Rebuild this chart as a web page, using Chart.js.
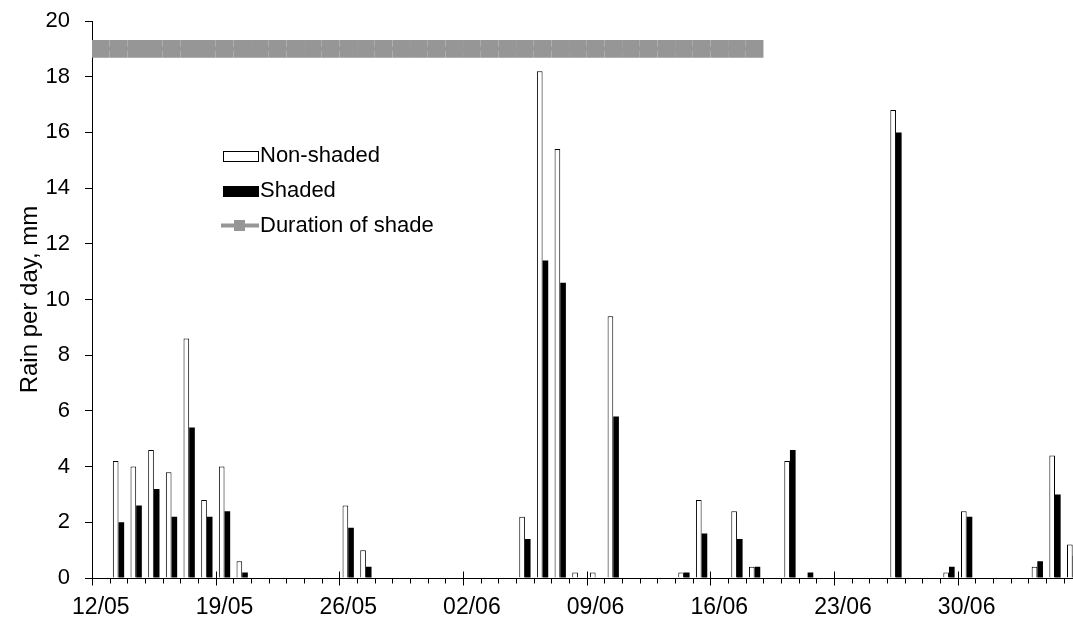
<!DOCTYPE html>
<html>
<head>
<meta charset="utf-8">
<title>Rain per day</title>
<script src="https://cdn.jsdelivr.net/npm/chart.js@4.4.1/dist/chart.umd.min.js"></script>
<style>
  html, body { margin: 0; padding: 0; background: #fff; overflow: hidden; }
  #wrap { position: relative; width: 1073px; height: 621px; overflow: hidden; }
  #rain { display: block; width: 1090px; height: 621px; }
</style>
</head>
<body>
<div id="wrap"><canvas id="rain" width="1090" height="621"></canvas></div>
<script>
// One category per day, 12 May to 6 July
const days = [
  '12/05','13/05','14/05','15/05','16/05','17/05','18/05',
  '19/05','20/05','21/05','22/05','23/05','24/05','25/05',
  '26/05','27/05','28/05','29/05','30/05','31/05','01/06',
  '02/06','03/06','04/06','05/06','06/06','07/06','08/06',
  '09/06','10/06','11/06','12/06','13/06','14/06','15/06',
  '16/06','17/06','18/06','19/06','20/06','21/06','22/06',
  '23/06','24/06','25/06','26/06','27/06','28/06','29/06',
  '30/06','01/07','02/07','03/07','04/07','05/07','06/07'
];

// Weekly labels shown on the date axis
const tickLabels = ['12/05','19/05','26/05','02/06','09/06','16/06','23/06','30/06'];

// Rain per day (mm) in the open
const nonShaded = [
  0, 4.2, 4.0, 4.6, 3.8, 8.6, 2.8,
  4.0, 0.6, 0, 0, 0, 0, 0,
  2.6, 1.0, 0, 0, 0, 0, 0,
  0, 0, 0, 2.2, 18.2, 15.4, 0.2,
  0.2, 9.4, 0, 0, 0, 0.2, 2.8,
  0, 2.4, 0.4, 0, 4.2, 0, 0,
  0, 0, 0, 16.8, 0, 0, 0.2,
  2.4, 0, 0, 0, 0.4, 4.4, 1.2
];

// Rain per day (mm) under the shade
const shaded = [
  0, 2.0, 2.6, 3.2, 2.2, 5.4, 2.2,
  2.4, 0.2, 0, 0, 0, 0, 0,
  1.8, 0.4, 0, 0, 0, 0, 0,
  0, 0, 0, 1.4, 11.4, 10.6, 0,
  0, 5.8, 0, 0, 0, 0.2, 1.6,
  0, 1.4, 0.4, 0, 4.6, 0.2, 0,
  0, 0, 0, 16.0, 0, 0, 0.4,
  2.2, 0, 0, 0, 0.6, 3.0, 0.8
];

// Period during which the shade was in place
const shadeFrom = '12/05';
const shadeTo = '18/06';
const shadeLevel = 19;

const iFrom = days.indexOf(shadeFrom);
const iTo = days.indexOf(shadeTo);
const shadeData = days.map((d, i) => (i >= iFrom && i <= iTo) ? shadeLevel : null);

const FONT = "'Liberation Sans', Arial, Helvetica, sans-serif";
const GREY = '#969696';

// Day tick marks below the axis, weekly marks crossing it
const dayTicks = {
  id: 'dayTicks',
  afterDraw(chart) {
    const x = chart.scales.x;
    const ctx = chart.ctx;
    const y0 = Math.round(x.top) + 0.5;
    ctx.save();
    ctx.strokeStyle = '#000';
    ctx.lineWidth = 1;
    for (let i = 0; i <= days.length; i++) {
      const px = Math.round(x.getPixelForValue(i - 0.5)) + 0.5;
      const major = i < days.length && tickLabels.includes(days[i]);
      ctx.beginPath();
      ctx.moveTo(px, major ? y0 - 7 : y0);
      ctx.lineTo(px, y0 + (major ? 7 : 5));
      ctx.stroke();
    }
    ctx.restore();
  }
};

// Legend box inside the plot
const keyBox = {
  id: 'keyBox',
  afterDraw(chart) {
    const ctx = chart.ctx;
    ctx.save();
    // Non-shaded
    ctx.fillStyle = '#fff';
    ctx.strokeStyle = '#000';
    ctx.lineWidth = 1;
    ctx.fillRect(223.5, 151.5, 35, 10);
    ctx.strokeRect(223.5, 151.5, 35, 10);
    // Shaded
    ctx.fillStyle = '#000';
    ctx.fillRect(223, 186, 36, 11);
    // Duration of shade
    ctx.strokeStyle = GREY;
    ctx.lineWidth = 4;
    ctx.beginPath();
    ctx.moveTo(221, 225.5);
    ctx.lineTo(259, 225.5);
    ctx.stroke();
    ctx.fillStyle = GREY;
    ctx.fillRect(234, 220, 11, 11);

    ctx.fillStyle = '#000';
    ctx.font = '22px ' + FONT;
    ctx.textBaseline = 'middle';
    ctx.textAlign = 'left';
    ctx.fillText('Non-shaded', 260, 156);
    ctx.fillText('Shaded', 260, 190.5);
    ctx.fillText('Duration of shade', 260, 225.5);
    ctx.restore();
  }
};

Chart.defaults.font.family = FONT;
Chart.defaults.color = '#000';

new Chart(document.getElementById('rain'), {
  type: 'bar',
  data: {
    labels: days,
    datasets: [
      {
        type: 'line',
        label: 'Duration of shade',
        data: shadeData,
        borderColor: GREY,
        borderWidth: 4,
        pointStyle: 'rect',
        pointRadius: 12.5,
        pointHoverRadius: 12.5,
        pointBackgroundColor: GREY,
        pointBorderWidth: 0,
        spanGaps: false,
        order: 0
      },
      {
        label: 'Non-shaded',
        data: nonShaded,
        backgroundColor: '#fff',
        borderColor: '#000',
        borderWidth: 1,
        categoryPercentage: 0.64,
        barPercentage: 1,
        order: 1
      },
      {
        label: 'Shaded',
        data: shaded,
        backgroundColor: '#000',
        borderWidth: 0,
        categoryPercentage: 0.64,
        barPercentage: 1,
        order: 2
      }
    ]
  },
  options: {
    responsive: false,
    maintainAspectRatio: false,
    devicePixelRatio: 1,
    animation: false,
    events: [],
    layout: { autoPadding: false, padding: { top: 21, right: 8.5, left: 0, bottom: 0 } },
    plugins: {
      legend: { display: false },
      tooltip: { enabled: false }
    },
    scales: {
      x: {
        offset: true,
        grid: { display: false, drawTicks: false },
        border: { display: true, color: '#000', width: 1 },
        ticks: {
          autoSkip: false,
          maxRotation: 0,
          minRotation: 0,
          padding: 16,
          font: { size: 23, lineHeight: 1.2 },
          color: '#000',
          callback(value) {
            const d = days[value];
            return tickLabels.includes(d) ? d : '';
          }
        },
        afterFit(scale) {
          scale.height = 43;
          scale.paddingLeft = 0;
          scale.paddingRight = 0;
        }
      },
      y: {
        min: 0,
        max: 20,
        grid: { display: true, drawOnChartArea: false, drawTicks: true, tickLength: 7, tickColor: '#000' },
        border: { display: true, color: '#000', width: 1 },
        ticks: {
          stepSize: 2,
          padding: 15,
          font: { size: 22, lineHeight: 1.2 },
          color: '#000'
        },
        title: {
          display: true,
          text: 'Rain per day, mm',
          font: { size: 24, lineHeight: 1.2 },
          color: '#000',
          padding: { top: 16, bottom: 0 }
        },
        afterFit(scale) {
          scale.width = 92;
          scale.paddingTop = 0;
          scale.paddingBottom = 0;
        }
      }
    }
  },
  plugins: [dayTicks, keyBox]
});
</script>
</body>
</html>
